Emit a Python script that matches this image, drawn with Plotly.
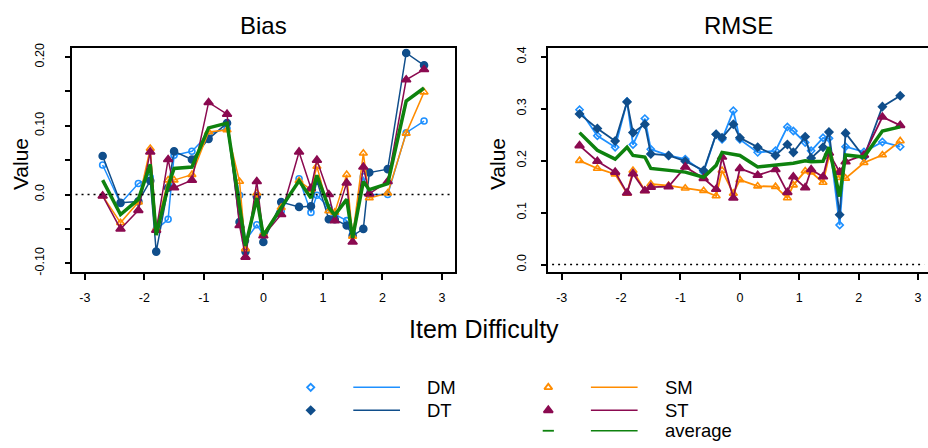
import plotly.graph_objects as go

# ---------------- data ----------------
difficulty = [-2.70, -2.40, -2.10, -1.90, -1.80, -1.60, -1.50, -1.20, -0.92, -0.61, -0.40, -0.30, -0.11, 0.00,
              0.30, 0.60, 0.80, 0.90, 1.10, 1.20, 1.40, 1.50, 1.68, 1.78, 2.09, 2.40, 2.70]

bias_DM = [0.043, -0.013, 0.016, 0.025, -0.051, -0.036, 0.057, 0.063, 0.088, 0.096, -0.001, -0.067, -0.044, -0.058,
           -0.024, 0.023, -0.026, -0.001, -0.019, -0.029, -0.038, -0.057, 0.026, 0.000, 0.000, 0.090, 0.107]
bias_DT = [0.056, -0.012, -0.010, 0.020, -0.083, 0.010, 0.063, 0.051, 0.081, 0.104, -0.040, -0.083, -0.003, -0.069,
           -0.011, -0.018, -0.017, 0.020, -0.036, -0.036, -0.045, -0.060, -0.050, 0.032, 0.037, 0.206, 0.188]
bias_SM = [-0.002, -0.041, -0.011, 0.067, -0.050, 0.021, 0.021, 0.029, 0.091, 0.094, 0.019, -0.079, 0.002, -0.057,
           -0.019, 0.020, 0.007, 0.041, -0.024, -0.026, 0.029, -0.061, 0.060, -0.005, 0.002, 0.089, 0.149]
bias_ST = [-0.002, -0.050, -0.023, 0.062, -0.052, 0.051, 0.010, 0.021, 0.134, 0.117, -0.045, -0.091, 0.019, -0.060,
           -0.029, 0.062, 0.009, 0.050, 0.000, -0.038, 0.017, -0.069, 0.040, 0.001, 0.019, 0.167, 0.182]
bias_avg = [0.021, -0.029, -0.007, 0.044, -0.059, 0.012, 0.038, 0.040, 0.097, 0.104, -0.017, -0.075, -0.005, -0.060,
            -0.019, 0.020, -0.005, 0.028, -0.019, -0.030, -0.007, -0.063, 0.019, 0.007, 0.016, 0.136, 0.155]

rmse_DM = [0.298, 0.248, 0.226, 0.314, 0.231, 0.281, 0.222, 0.210, 0.203, 0.178, 0.251, 0.241, 0.296, 0.241,
           0.216, 0.219, 0.265, 0.257, 0.235, 0.219, 0.244, 0.243, 0.076, 0.227, 0.217, 0.236, 0.227]
rmse_DT = [0.290, 0.262, 0.238, 0.313, 0.254, 0.270, 0.213, 0.210, 0.199, 0.181, 0.251, 0.244, 0.270, 0.244,
           0.226, 0.210, 0.231, 0.216, 0.246, 0.205, 0.226, 0.255, 0.096, 0.253, 0.207, 0.304, 0.325]
rmse_SM = [0.200, 0.185, 0.174, 0.137, 0.181, 0.142, 0.155, 0.152, 0.147, 0.142, 0.132, 0.181, 0.137, 0.163,
           0.151, 0.150, 0.128, 0.153, 0.180, 0.178, 0.158, 0.208, 0.167, 0.166, 0.196, 0.211, 0.238]
rmse_ST = [0.229, 0.199, 0.178, 0.138, 0.175, 0.142, 0.149, 0.150, 0.188, 0.166, 0.145, 0.207, 0.128, 0.185,
           0.172, 0.183, 0.139, 0.169, 0.148, 0.183, 0.169, 0.215, 0.178, 0.198, 0.211, 0.284, 0.268]
rmse_avg = [0.254, 0.220, 0.203, 0.226, 0.210, 0.207, 0.185, 0.181, 0.178, 0.168, 0.191, 0.216, 0.213, 0.210,
            0.188, 0.191, 0.194, 0.195, 0.200, 0.198, 0.199, 0.226, 0.131, 0.211, 0.207, 0.257, 0.265]

x_ticks = [-3, -2, -1, 0, 1, 2, 3]
x_ticktext = ["-3", "-2", "-1", "0", "1", "2", "3"]
bias_ticks = [-0.10, -0.05, 0.0, 0.05, 0.10, 0.15, 0.20]
bias_ticktext = ["-0.10", "", "0.0", "", "0.10", "", "0.20"]
rmse_ticks = [0.0, 0.1, 0.2, 0.3, 0.4]
rmse_ticktext = ["0.0", "0.1", "0.2", "0.3", "0.4"]

series_names = ["DM", "DT", "SM", "ST", "average"]

# ---------------- styles ----------------
FONT = "Liberation Sans, Arial, sans-serif"
C = {"DM": "#1E90FF", "DT": "#104E8B", "SM": "#FF8C00", "ST": "#8B0A50", "average": "#0E820E"}
W, H = 928, 448

fig = go.Figure()

left_sym = {"DM": "circle-open", "DT": "circle", "SM": "triangle-up-open", "ST": "triangle-up"}
right_sym = {"DM": "diamond-open", "DT": "diamond", "SM": "triangle-up-open", "ST": "triangle-up"}
msize = {"circle-open": 6, "circle": 7, "triangle-up-open": 7, "triangle-up": 8,
         "diamond-open": 5.5, "diamond": 6}

bias = {"DM": bias_DM, "DT": bias_DT, "SM": bias_SM, "ST": bias_ST, "average": bias_avg}
rmse = {"DM": rmse_DM, "DT": rmse_DT, "SM": rmse_SM, "ST": rmse_ST, "average": rmse_avg}

for data, syms, xa, ya, lw in [(bias, left_sym, "x", "y", 1.5), (rmse, right_sym, "x2", "y2", 1.8)]:
    for name in series_names:
        if name == "average":
            fig.add_trace(go.Scatter(x=difficulty, y=data[name], mode="lines", xaxis=xa, yaxis=ya,
                                     line=dict(color=C[name], width=3.5), showlegend=False, hoverinfo="skip"))
        else:
            s = syms[name]
            fig.add_trace(go.Scatter(x=difficulty, y=data[name], mode="lines+markers", xaxis=xa, yaxis=ya,
                                     line=dict(color=C[name], width=lw),
                                     marker=dict(symbol=s, size=msize[s], color=C[name],
                                                 line=dict(color=C[name], width=1.6)),
                                     showlegend=False, hoverinfo="skip"))

# ---------------- axes ----------------
yb, yt = 1 - 272 / H, 1 - 44 / H
axis_common = dict(showgrid=False, zeroline=False, showline=True, linecolor="black", linewidth=2,
                   ticks="outside", tickcolor="black", tickwidth=1.5,
                   tickfont=dict(family=FONT, size=12.5, color="black"))

fig.update_layout(
    xaxis=dict(domain=[71.7 / W, 455 / W], range=[-3.22, 3.22], tickvals=x_ticks, ticktext=x_ticktext,
               ticklen=6, mirror=True, anchor="y", ticklabelstandoff=7, **axis_common),
    yaxis=dict(domain=[yb, yt], range=[-0.1129, 0.2129], tickvals=bias_ticks, ticktext=bias_ticktext,
               ticklen=5, tickangle=-90, mirror=True, anchor="x", ticklabelstandoff=16, **axis_common),
    xaxis2=dict(domain=[548.3 / W, 1.0], range=[-3.226, 3.168], tickvals=x_ticks, ticktext=x_ticktext,
                ticklen=6, mirror=True, anchor="y2", ticklabelstandoff=7, **axis_common),
    yaxis2=dict(domain=[yb, yt], range=[-0.0146, 0.4165], tickvals=rmse_ticks, ticktext=rmse_ticktext,
                ticklen=5, tickangle=-90, mirror=False, anchor="x2", ticklabelstandoff=10, **axis_common),
    xaxis3=dict(domain=[0, 1], range=[0, W], visible=False, anchor="y3", fixedrange=True),
    yaxis3=dict(domain=[0, 1], range=[H, 0], visible=False, anchor="x3", fixedrange=True),
)

# zero reference lines (dotted)
for xr, yr in [("x domain", "y"), ("x2 domain", "y2")]:
    fig.add_shape(type="line", xref=xr, yref=yr, x0=0.01, x1=0.99, y0=0, y1=0,
                  line=dict(color="black", width=1.5, dash="2px,4px"))

# ---------------- titles ----------------
ann = []
ann.append(dict(text="Bias", x=263.5, y=21, xref="x3", yref="y3", showarrow=False,
                font=dict(family=FONT, size=24, color="black")))
ann.append(dict(text="RMSE", x=738, y=21, xref="x3", yref="y3", showarrow=False,
                font=dict(family=FONT, size=24, color="black")))
ann.append(dict(text="Item Difficulty", x=484, y=330, xref="x3", yref="y3", showarrow=False,
                font=dict(family=FONT, size=25, color="black")))
for xv in (20, 497):
    ann.append(dict(text="Value", x=xv, y=162, xref="x3", yref="y3", showarrow=False, textangle=-90,
                    font=dict(family=FONT, size=21, color="black")))

# ---------------- legend (manual, R style) ----------------
leg = [("DM", 310.7, 389.3, "diamond-open", 5.5), ("DT", 310.7, 412.7, "diamond", 6),
       ("SM", 548.3, 389.3, "triangle-up-open", 7), ("ST", 548.3, 412.7, "triangle-up", 8),
       ("average", 548.3, 433.5, "line-ew", 8)]
for name, mx, my, sym, sz in leg:
    fig.add_trace(go.Scatter(x=[mx], y=[my], mode="markers", xaxis="x3", yaxis="y3",
                             marker=dict(symbol=sym, size=sz, color=C[name],
                                         line=dict(color=C[name], width=1.8)),
                             showlegend=False, hoverinfo="skip"))
    fig.add_shape(type="line", xref="x3", yref="y3", x0=mx + 42.6, x1=mx + 89.3, y0=my, y1=my,
                  line=dict(color=C[name], width=1.5))
    ann.append(dict(text=name, x=mx + 114.3, y=my, xref="x3", yref="y3", xanchor="left", showarrow=False,
                    font=dict(family=FONT, size=18.5, color="black")))

fig.update_layout(annotations=ann, width=W, height=H, margin=dict(l=0, r=0, t=0, b=0),
                  paper_bgcolor="white", plot_bgcolor="rgba(0,0,0,0)", showlegend=False)

fig.write_html("out.html", config={"displayModeBar": False})
